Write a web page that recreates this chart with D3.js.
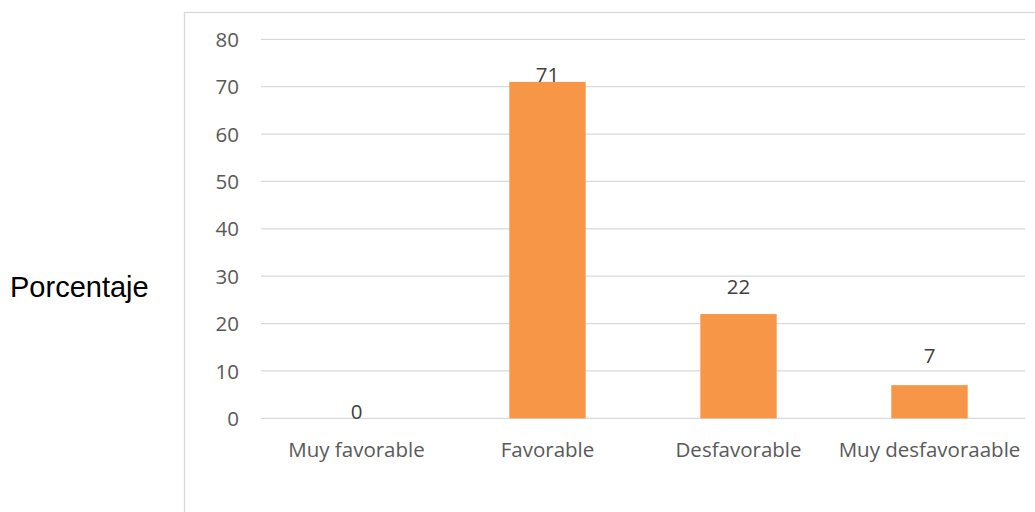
<!DOCTYPE html>
<html><head><meta charset="utf-8">
<script src="https://cdn.jsdelivr.net/npm/d3@7"></script>
<style>body{margin:0;background:#fff}svg{display:block}</style>
</head><body>
<script>
const categories = ["Muy favorable","Favorable","Desfavorable","Muy desfavoraable"];
const values = [0,71,22,7];
const yTicks = [0,10,20,30,40,50,60,70,80];
const yTitle = "Porcentaje";

const W=1035,H=512;
const svg=d3.select("body").append("svg").attr("width",W).attr("height",H);
const font="Open Sans, sans-serif";
svg.append("rect").attr("x",184.5).attr("y",12.5).attr("width",W).attr("height",H)
  .attr("fill","none").attr("stroke","#d9d9d9").attr("stroke-width",1.3);

const x=d3.scaleBand().domain(categories).range([261,1025]).paddingInner(0.6).paddingOuter(0.3);
const y=d3.scaleLinear().domain([0,80]).range([418.3,39.3]);

svg.append("g").selectAll("line").data(yTicks).join("line")
  .attr("x1",261).attr("x2",1025).attr("y1",d=>y(d)).attr("y2",d=>y(d))
  .attr("stroke","#d9d9d9").attr("stroke-width",1.3);

const yAxis=d3.axisLeft(y).tickValues(yTicks).tickSize(0).tickPadding(0);
svg.append("g").attr("transform","translate(239,0)").call(yAxis)
  .call(s=>s.select(".domain").remove())
  .selectAll("text").attr("font-family",font).attr("font-size",20.5).attr("fill","#595959").attr("dy","0.35em");

const xAxis=d3.axisBottom(x).tickSize(0).tickPadding(0);
svg.append("g").attr("transform","translate(0,450)").call(xAxis)
  .call(s=>s.select(".domain").remove())
  .selectAll("text").attr("font-family",font).attr("font-size",20.5).attr("fill","#595959").attr("dy","0.35em");

// labels first so the tall bar overlaps its label
const labelOffset=[6,7,27,29];
svg.selectAll("text.lbl").data(values).join("text").attr("class","lbl")
  .attr("x",(d,i)=>x(categories[i])+x.bandwidth()/2)
  .attr("y",(d,i)=>y(d)-labelOffset[i])
  .attr("dy","0.35em").attr("text-anchor","middle")
  .attr("font-family",font).attr("font-size",20.5).attr("fill","#404040").text(d=>d);

svg.selectAll("rect.bar").data(values).join("rect").attr("class","bar")
  .attr("x",(d,i)=>x(categories[i])).attr("width",x.bandwidth())
  .attr("y",d=>y(d)).attr("height",d=>y(0)-y(d)).attr("fill","#F79646");

svg.append("text").attr("x",10).attr("y",287).attr("dy","0.35em")
  .attr("font-family","Liberation Sans, Arial, sans-serif").attr("font-size",29).attr("fill","#000").text(yTitle);
</script>
</body></html>
